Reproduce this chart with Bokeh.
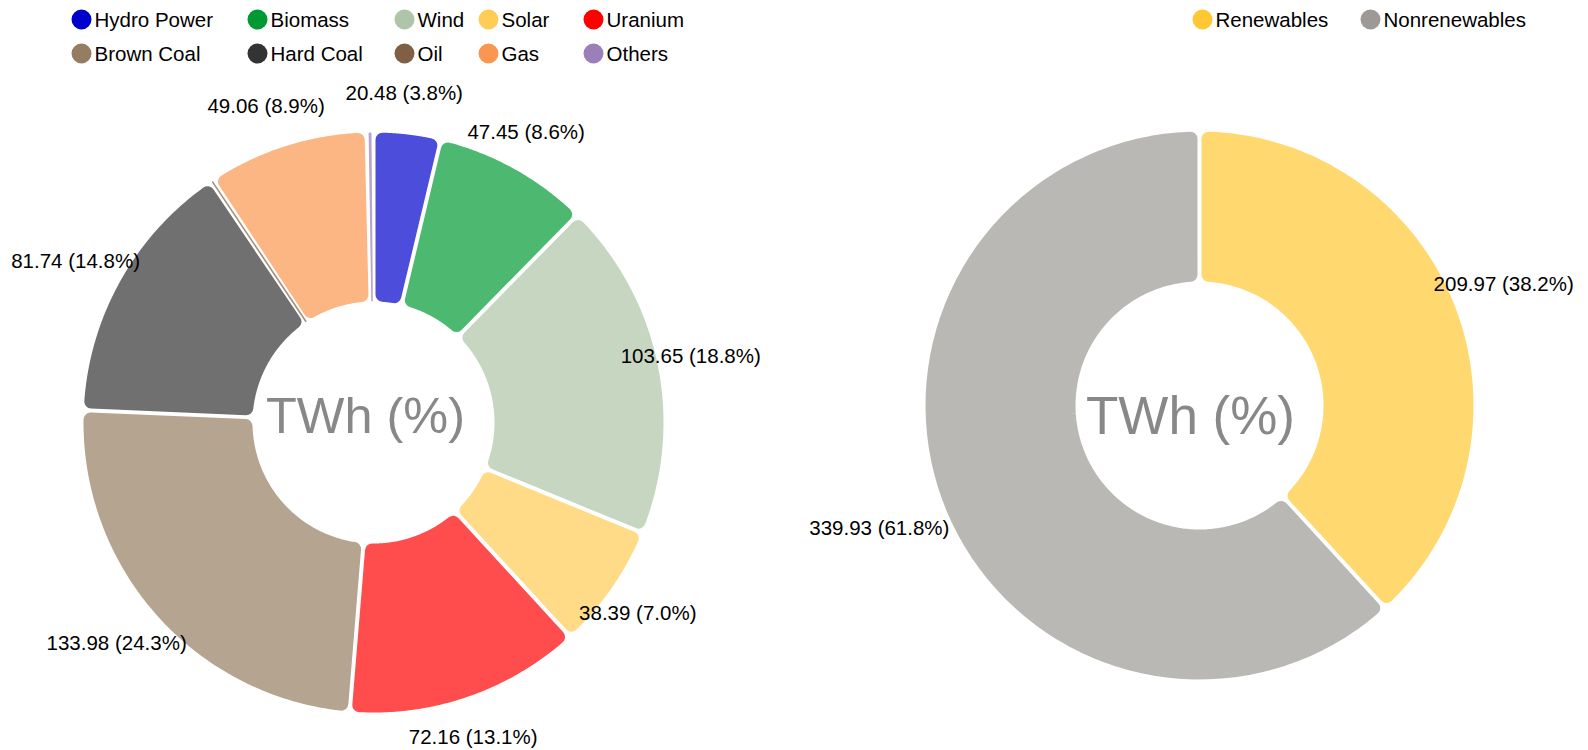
import numpy as np
from bokeh.plotting import figure
from bokeh.models import Range1d, ColumnDataSource
from bokeh.core.properties import value
from bokeh.embed import file_html
from bokeh.resources import INLINE

# ---------------- data ----------------
sources = ["Hydro Power", "Biomass", "Wind", "Solar", "Uranium",
           "Brown Coal", "Hard Coal", "Oil", "Gas", "Others"]
source_twh = [20.48, 47.45, 103.65, 38.39, 72.16, 133.98, 81.74, 0.90, 49.06, 2.09]
source_pct = ["3.8%", "8.6%", "18.8%", "7.0%", "13.1%", "24.3%", "14.8%", "", "8.9%", ""]
source_colors = ["#0000cc", "#009933", "#aec5a7", "#ffcc55", "#ff0000",
                 "#957d61", "#333333", "#7f6045", "#f99750", "#9a7fb8"]

groups = ["Renewables", "Nonrenewables"]
group_twh = [209.97, 339.93]
group_pct = ["38.2%", "61.8%"]
group_colors = ["#ffc733", "#9d9994"]

center_label = "TWh (%)"

# ---------------- layout ----------------
PAGE_H = 750
W, H = 1586, 748
FONT = value("Liberation Sans")


def py(y):  # page y (top-down) -> data y (bottom-up)
    return PAGE_H - y


def blend(c, a=0.7):
    c = c.lstrip("#")
    rgb = [int(c[i:i + 2], 16) for i in (0, 2, 4)]
    return "#" + "".join("%02x" % int(round(a * v + (1 - a) * 255)) for v in rgb)


p = figure(width=W, height=H, output_backend="svg", toolbar_location=None,
           x_range=Range1d(0, W), y_range=Range1d(PAGE_H - H, PAGE_H),
           min_border=0, outline_line_color=None)
p.axis.visible = False
p.grid.visible = False
p.background_fill_color = "white"


def ring(cx, cy, r_in, r_out, vals, colors, pcts, r_lab, lab_dx=-8,
         gap=4.0, k=7.0, n=80):
    vals = np.asarray(vals, float)
    cum = np.concatenate([[0.0], np.cumsum(vals)]) / vals.sum()
    xs, ys, lws, fills = [], [], [], []
    lx, ly, lt = [], [], []
    for i, (f0, f1) in enumerate(zip(cum[:-1], cum[1:])):
        a0 = np.pi / 2 - 2 * np.pi * f0
        a1 = np.pi / 2 - 2 * np.pi * f1
        am = (a0 + a1) / 2
        rm = (r_in + r_out) / 2
        avail = 2 * rm * np.sin((a0 - a1) / 2) - gap
        ke = float(np.clip(avail / 2, 0.8, k))
        e = gap / 2 + ke
        ri, ro = r_in + ke, r_out - ke

        def span(r):
            d = np.arcsin(min(e / r, 1.0))
            lo, hi = a1 + d, a0 - d
            if lo > hi:
                lo = hi = am
            return lo, hi

        lo_o, hi_o = span(ro)
        lo_i, hi_i = span(ri)
        to = np.linspace(hi_o, lo_o, n)
        ti = np.linspace(lo_i, hi_i, n)
        xs.append(list(np.concatenate([cx + ro * np.cos(to), cx + ri * np.cos(ti)])))
        ys.append(list(np.concatenate([cy + ro * np.sin(to), cy + ri * np.sin(ti)])))
        lws.append(2 * ke)
        fills.append(blend(colors[i]))
        if pcts[i]:
            lx.append(cx + r_lab * np.cos(am) + lab_dx)
            ly.append(cy + r_lab * np.sin(am))
            lt.append("%.2f (%s)" % (vals[i], pcts[i]))
    src = ColumnDataSource(dict(xs=xs, ys=ys, lw=lws, c=fills))
    p.patches("xs", "ys", source=src, fill_color="c", line_color="c",
              line_width="lw", line_join="round")
    lsrc = ColumnDataSource(dict(x=lx, y=ly, t=lt))
    p.text("x", "y", text="t", source=lsrc, text_font=FONT, text_font_size="20.5px",
           text_color="#000000", text_align="center", text_baseline="middle")


# left donut: all sources
ring(373, py(422), 121, 290, source_twh, source_colors, source_pct, r_lab=332)
# right donut: renewables vs nonrenewables
ring(1199, py(405), 124, 274, group_twh, group_colors, group_pct, r_lab=335)

# centre labels
p.text([365], [py(415)], text=[center_label],
       text_font=FONT, text_font_size="50.5px", text_color="#888888",
       text_align="center", text_baseline="middle")
p.text([1190], [py(415)], text=[center_label],
       text_font=FONT, text_font_size="53px", text_color="#888888",
       text_align="center", text_baseline="middle")

# legends
leg_x = [81, 257, 404, 488, 593]
leg_y = [19, 53]
lx, ly, lc, lt = [], [], [], []
for i, name in enumerate(sources):
    lx.append(leg_x[i % 5])
    ly.append(py(leg_y[i // 5]))
    lc.append(source_colors[i])
    lt.append(name)
for i, name in enumerate(groups):
    lx.append([1202, 1370][i])
    ly.append(py(19))
    lc.append(group_colors[i])
    lt.append(name)
leg = ColumnDataSource(dict(x=lx, y=ly, c=lc, t=lt, tx=[v + 13 for v in lx]))
p.scatter("x", "y", source=leg, size=20, fill_color="c", line_color=None)
p.text("tx", "y", text="t", source=leg, text_font=FONT, text_font_size="20.5px",
       text_color="#000000", text_align="left", text_baseline="middle")

open("out.html", "w").write(file_html(p, INLINE))
